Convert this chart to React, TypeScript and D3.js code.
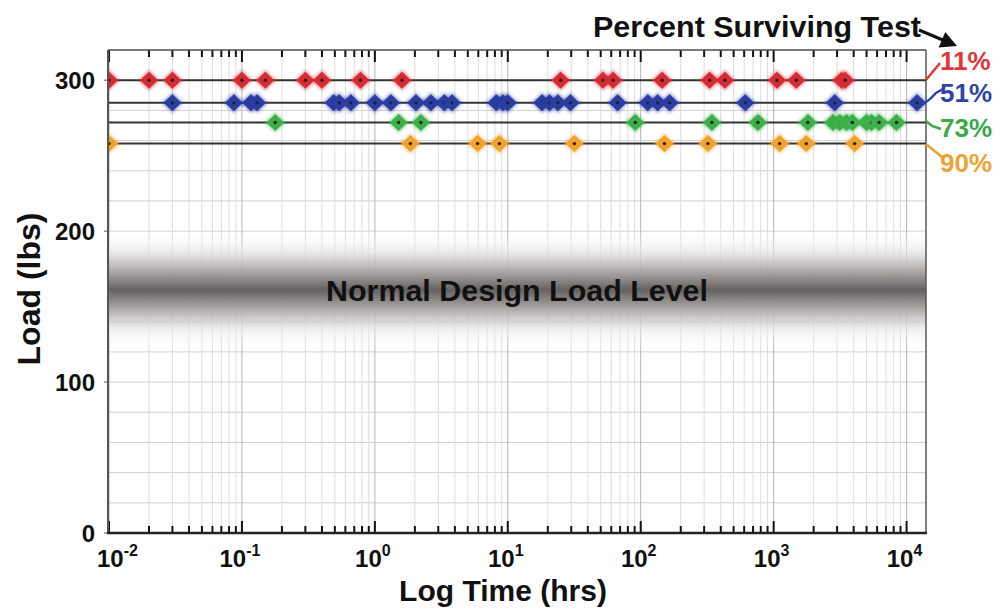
import React from "react";
import * as d3 from "d3";

const seriesNames = ["11%", "51%", "73%", "90%"];
const seriesLoads = [300, 285, 272, 258];
const seriesColors = ["#d82a30", "#2b3ca2", "#3cb04a", "#f2a12c"];
const labelColors = ["#e2353a", "#2f44a8", "#3aa948", "#eea233"];

const redHours = [0.01, 0.02, 0.03, 0.1, 0.15, 0.3, 0.4, 0.78, 1.6, 25, 52, 62, 145, 330, 430, 1060, 1480, 3250, 3450];
const blueHours = [0.03, 0.087, 0.117, 0.13, 0.49, 0.54, 0.66, 1.0, 1.32, 2.04, 2.64, 3.33, 3.81, 8.2, 9.2, 10, 18.1, 20.6, 23.8, 29.6, 67, 113, 134, 165, 612, 2880, 12000];
const greenHours = [0.178, 1.51, 2.22, 91, 343, 762, 1810, 2800, 3140, 3530, 3910, 4990, 5450, 6210, 8400];
const orangeHours = [0.01, 1.85, 5.93, 8.65, 31.7, 151, 320, 1110, 1760, 4070];
const seriesHours = [redHours, blueHours, greenHours, orangeHours];

const decadeExponents = [-2, -1, 0, 1, 2, 3, 4];
const yTicks = [0, 100, 200, 300];
const yGrid = d3.range(0, 321, 20);

const designLoad = 161;

const FONT = "'Liberation Sans', Arial, Helvetica, sans-serif";

export default function App() {
  const left = 108, right = 926, top = 50, bottom = 533;
  const x = d3.scaleLog().domain([0.01, 14000]).range([109, 926]);
  const y = d3.scaleLinear().domain([0, 320]).range([533, 50]);

  const minors: number[] = [];
  decadeExponents.forEach((e) => {
    for (let k = 2; k <= 9; k++) {
      const v = k * Math.pow(10, e);
      if (v < 14000) minors.push(v);
    }
  });
  const majors = decadeExponents.map((e) => Math.pow(10, e));

  const bandC = y(designLoad);
  const dh = 8.5, dw = 9;

  return (
    <svg width={1000} height={613} style={{ position: "absolute", left: 0, top: 0, background: "#fff" }} fontFamily={FONT}>
      <defs>
        <clipPath id="plotClip">
          <rect x={left} y={top} width={right - left} height={bottom - top} />
        </clipPath>
        <linearGradient id="band" x1="0" y1="0" x2="0" y2="1">
          <stop offset="0%" stopColor="#ffffff" stopOpacity={0} />
          <stop offset="18%" stopColor="#e6e4e3" stopOpacity={0.7} />
          <stop offset="34%" stopColor="#a9a5a3" stopOpacity={0.95} />
          <stop offset="50%" stopColor="#666161" stopOpacity={1} />
          <stop offset="66%" stopColor="#a9a5a3" stopOpacity={0.95} />
          <stop offset="82%" stopColor="#e6e4e3" stopOpacity={0.7} />
          <stop offset="100%" stopColor="#ffffff" stopOpacity={0} />
        </linearGradient>
        <filter id="soft" x="-30%" y="-30%" width="160%" height="160%">
          <feGaussianBlur stdDeviation="0.6" />
        </filter>
        <filter id="halo" x="-50%" y="-50%" width="200%" height="200%">
          <feGaussianBlur stdDeviation="1.6" />
        </filter>
      </defs>

      {/* grid */}
      <g>
        {yGrid.map((v) => (
          <line key={"hg" + v} x1={left} x2={right} y1={y(v)} y2={y(v)} stroke="#cfcfcf" strokeWidth={1} />
        ))}
        {minors.map((v) => (
          <line key={"vm" + v} x1={x(v)} x2={x(v)} y1={top} y2={bottom} stroke="#dcdcdc" strokeWidth={1} />
        ))}
        {majors.map((v) => (
          <line key={"vM" + v} x1={x(v)} x2={x(v)} y1={top} y2={bottom} stroke="#b4b4b4" strokeWidth={1} />
        ))}
      </g>

      {/* design load band */}
      <rect x={left} y={bandC - 60} width={right - left} height={120} fill="url(#band)" />
      <text x={517} y={bandC + 11} textAnchor="middle" fontSize={30} fontWeight="bold" fill="#111" textLength={382} lengthAdjust="spacingAndGlyphs">
        Normal Design Load Level
      </text>

      {/* series lines */}
      {seriesLoads.map((l, i) => (
        <line key={"sl" + i} x1={left} x2={right} y1={y(l)} y2={y(l)} stroke="#333" strokeWidth={2} />
      ))}

      {/* diamonds */}
      <g clipPath="url(#plotClip)">
        {seriesHours.map((hrs, i) =>
          hrs.map((h, j) => {
            const cx = x(h), cy = y(seriesLoads[i]);
            return (
              <g key={"d" + i + "-" + j}>
                <path
                  d={`M${cx},${cy - dh - 2} L${cx + dw + 2},${cy} L${cx},${cy + dh + 2} L${cx - dw - 2},${cy} Z`}
                  fill={seriesColors[i]}
                  opacity={0.45}
                  filter="url(#halo)"
                />
                <path
                  d={`M${cx},${cy - dh} L${cx + dw},${cy} L${cx},${cy + dh} L${cx - dw},${cy} Z`}
                  fill={seriesColors[i]}
                  filter="url(#soft)"
                />
                <circle cx={cx} cy={cy} r={1.7} fill="#222" />
              </g>
            );
          })
        )}
      </g>

      {/* ticks */}
      {minors.map((v) => (
        <g key={"tm" + v}>
          <line x1={x(v)} x2={x(v)} y1={bottom} y2={bottom - 7} stroke="#111" strokeWidth={2} />
          <line x1={x(v)} x2={x(v)} y1={top} y2={top + 7} stroke="#111" strokeWidth={2} />
        </g>
      ))}
      {majors.map((v) => (
        <g key={"tM" + v}>
          <line x1={x(v)} x2={x(v)} y1={bottom} y2={bottom - 12} stroke="#111" strokeWidth={2} />
          <line x1={x(v)} x2={x(v)} y1={top} y2={top + 12} stroke="#111" strokeWidth={2} />
        </g>
      ))}
      {yTicks.map((v) => (
        <line key={"yt" + v} x1={left - 4} x2={left} y1={y(v)} y2={y(v)} stroke="#555" strokeWidth={1} />
      ))}

      {/* frame */}
      <line x1={left} x2={right} y1={top} y2={top} stroke="#555" strokeWidth={1.5} />
      <line x1={right} x2={right} y1={top} y2={bottom} stroke="#555" strokeWidth={1.5} />
      <line x1={left} x2={left} y1={top} y2={bottom + 1} stroke="#555" strokeWidth={2} />
      <line x1={left - 1} x2={right + 1} y1={bottom} y2={bottom} stroke="#222" strokeWidth={2.5} />

      {/* y tick labels */}
      {yTicks.map((v) => (
        <text key={"yl" + v} x={95} y={y(v) + 9} textAnchor="end" fontSize={24} fontWeight="bold" fill="#111">
          {v}
        </text>
      ))}

      {/* x tick labels */}
      {decadeExponents.map((e, i) => (
        <text
          key={"xl" + e}
          x={i === 0 ? 97 : x(Math.pow(10, e)) - 2}
          y={567}
          textAnchor={i === 0 ? "start" : "middle"}
          fontSize={24}
          fontWeight="bold"
          fill="#111"
        >
          10
          <tspan fontSize={16} dy={-11}>{String(e)}</tspan>
        </text>
      ))}

      {/* axis titles */}
      <text x={503} y={601} textAnchor="middle" fontSize={30} fontWeight="bold" fill="#111">
        Log Time (hrs)
      </text>
      <text
        transform={`translate(40, ${289}) rotate(-90)`}
        textAnchor="middle"
        fontSize={32}
        fontWeight="bold"
        fill="#111"
      >
        Load (lbs)
      </text>

      {/* legend annotations */}
      <text x={593} y={37} fontSize={30} fontWeight="bold" fill="#111" textLength={328} lengthAdjust="spacingAndGlyphs">
        Percent Surviving Test
      </text>
      <line x1={919} x2={944} y1={30} y2={40.5} stroke="#111" strokeWidth={3} />
      <path d="M957,46 L945.3,32 L938.6,47.6 Z" fill="#111" />

      <path d="M926,80 L940,63" stroke={labelColors[0]} strokeWidth={2.5} fill="none" />
      <path d="M922,105 Q930,100 936,93 L943,89" stroke={labelColors[1]} strokeWidth={2.5} fill="none" />
      <path d="M926,121 L932,126 L941,129" stroke={labelColors[2]} strokeWidth={2.5} fill="none" />
      <path d="M926,144 L937,153 L942,157" stroke={labelColors[3]} strokeWidth={2.5} fill="none" />

      {seriesNames.map((n, i) => (
        <text
          key={"pl" + i}
          x={940}
          y={[70, 102, 137, 172][i]}
          fontSize={26}
          fontWeight="bold"
          fill={labelColors[i]}
        >
          {n}
        </text>
      ))}
    </svg>
  );
}
